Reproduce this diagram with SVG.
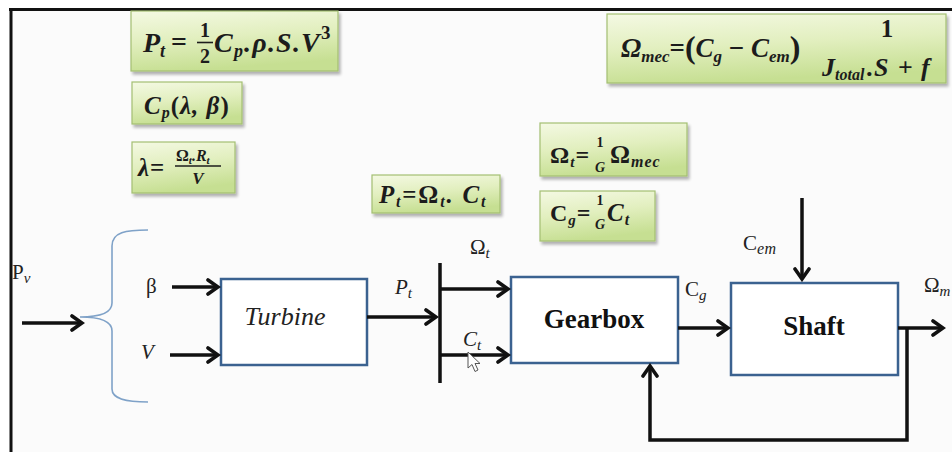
<svg xmlns="http://www.w3.org/2000/svg" width="952" height="452" viewBox="0 0 952 452">
<defs>
<linearGradient id="grn" x1="0" y1="0" x2="0.25" y2="1">
<stop offset="0" stop-color="#f4f9e3"/>
<stop offset="0.5" stop-color="#e2efbf"/>
<stop offset="1" stop-color="#c6df92"/>
</linearGradient>
<filter id="sh" x="-10%" y="-10%" width="130%" height="140%">
<feGaussianBlur in="SourceAlpha" stdDeviation="1.5"/>
<feOffset dx="2" dy="3" result="o"/>
<feComponentTransfer><feFuncA type="linear" slope="0.3"/></feComponentTransfer>
<feMerge><feMergeNode/><feMergeNode in="SourceGraphic"/></feMerge>
</filter>
<marker id="ah" markerUnits="userSpaceOnUse" viewBox="0 0 16 18" refX="13" refY="9" markerWidth="16" markerHeight="18" orient="auto">
<path d="M3,2 L13,9 L3,16" fill="none" stroke="#111" stroke-width="3.6" stroke-linecap="round"/>
</marker>
</defs>
<style>
.eq { fill:url(#grn); stroke:#a3bf72; stroke-width:1.2; filter:url(#sh); }
.blk { fill:#ffffff; stroke:#3b6290; stroke-width:2.5; }
.m { font-family:"Liberation Serif","DejaVu Serif",serif; font-style:italic; font-weight:bold; fill:#1c1c1c; }
.r { font-style:normal; }
.lb { font-family:"Liberation Serif","DejaVu Serif",serif; font-style:italic; fill:#222; font-size:21px; }
.up { font-style:normal; }
.w { stroke:#111; stroke-width:3.5; fill:none; }
.wa { stroke:#111; stroke-width:3.5; fill:none; marker-end:url(#ah); }
</style>
<rect x="0" y="0" width="952" height="452" fill="#ffffff"/>
<rect x="11" y="9" width="941" height="443" fill="#fbfbfb"/>
<line x1="9" y1="9.5" x2="952" y2="9.5" stroke="#111" stroke-width="3"/>
<line x1="11" y1="8" x2="11" y2="452" stroke="#111" stroke-width="3"/>

<g id="eq-pt">
<rect class="eq" x="131" y="11" width="207" height="60"/>
<text class="m" font-size="28"><tspan x="143" y="52">P</tspan><tspan font-size="18" dy="5">t</tspan><tspan class="r" x="171" y="51">=</tspan></text>
<text class="m r" font-size="20" text-anchor="middle"><tspan x="205" y="37">1</tspan><tspan x="205" y="63">2</tspan></text>
<line x1="197" y1="42.5" x2="213" y2="42.5" stroke="#1c1c1c" stroke-width="1.6"/>
<text class="m" font-size="28" letter-spacing="1.2"><tspan x="214" y="52">C</tspan><tspan font-size="18" dy="5">p</tspan><tspan dy="-5">.ρ.S.V</tspan><tspan class="r" font-size="19" dy="-13">3</tspan></text>
</g>

<g id="eq-cp">
<rect class="eq" x="132" y="82" width="110" height="42"/>
<text class="m" font-size="25" letter-spacing="1"><tspan x="144" y="114">C</tspan><tspan font-size="16" dy="4">p</tspan><tspan class="r" dy="-4">(</tspan><tspan>λ, β</tspan><tspan class="r">)</tspan></text>
</g>

<g id="eq-lambda">
<rect class="eq" x="132" y="142" width="103" height="51"/>
<text class="m" font-size="25" letter-spacing="1"><tspan x="138" y="176">λ</tspan><tspan class="r">=</tspan></text>
<text class="m" font-size="16"><tspan x="176" y="161" class="r">Ω</tspan><tspan font-size="11" dy="3">t</tspan><tspan dy="-3">.R</tspan><tspan font-size="11" dy="3">t</tspan></text>
<line x1="175" y1="166" x2="221" y2="166" stroke="#1c1c1c" stroke-width="1.3"/>
<text class="m" font-size="17" x="198" y="184" text-anchor="middle">V</text>
</g>

<g id="eq-power">
<rect class="eq" x="372" y="175" width="128" height="38"/>
<text class="m" font-size="25" letter-spacing="1.8"><tspan x="379" y="203">P</tspan><tspan font-size="16" dy="4">t</tspan><tspan class="r" dy="-4">=Ω</tspan><tspan font-size="16" dy="4">t</tspan><tspan dy="-4">. C</tspan><tspan font-size="16" dy="4">t</tspan></text>
</g>

<g id="eq-omega-t">
<rect class="eq" x="540" y="123" width="147" height="53"/>
<text class="m" font-size="24" letter-spacing="1"><tspan class="r" x="550" y="163">Ω</tspan><tspan font-size="15" dy="4">t</tspan><tspan class="r" dy="-4">=</tspan></text>
<text class="m" font-size="14" text-anchor="middle"><tspan class="r" x="600" y="147">1</tspan><tspan x="600" y="172">G</tspan></text>
<text class="m" font-size="25" letter-spacing="1"><tspan class="r" x="610" y="163">Ω</tspan><tspan font-size="16" dy="4">mec</tspan></text>
</g>

<g id="eq-cg">
<rect class="eq" x="540" y="191" width="115" height="50"/>
<text class="m" font-size="24" letter-spacing="1"><tspan class="r" x="550" y="221">C</tspan><tspan font-size="15" dy="4">g</tspan><tspan class="r" dy="-4">=</tspan></text>
<text class="m" font-size="14" text-anchor="middle"><tspan class="r" x="600" y="205">1</tspan><tspan x="600" y="229">G</tspan></text>
<text class="m" font-size="25" letter-spacing="1"><tspan x="607" y="221">C</tspan><tspan font-size="16" dy="4">t</tspan></text>
</g>

<g id="eq-omega-mec">
<rect class="eq" x="607" y="14" width="339" height="69"/>
<text class="m" font-size="27"><tspan x="621" y="57">Ω</tspan><tspan font-size="17" dy="5">mec</tspan><tspan class="r" dy="-5">=</tspan><tspan class="r" font-size="32" dy="1">(</tspan><tspan dy="-1">C</tspan><tspan font-size="17" dy="5">g</tspan><tspan class="r" dy="-5"> − </tspan><tspan>C</tspan><tspan font-size="17" dy="5">em</tspan><tspan class="r" font-size="32" dy="-4">)</tspan></text>
<text class="m r" font-size="25" x="887" y="37" text-anchor="middle">1</text>
<text class="m" font-size="26"><tspan x="822" y="76">J</tspan><tspan font-size="16" dy="4">total</tspan><tspan dy="-4" x="867">.</tspan><tspan x="874">S</tspan><tspan class="r" x="898">+</tspan><tspan x="921">f</tspan></text>
</g>

<g id="brace">
<path d="M148,230 C126,230 112,232 112,246 L112,303 C112,313 100,317 80,317 C100,317 112,321 112,331 L112,389 C112,399 126,402 148,402" fill="none" stroke="#7fa2c8" stroke-width="1.6"/>
</g>

<g id="turbine">
<rect class="blk" x="221" y="279" width="146" height="86"/>
<text x="285" y="325" text-anchor="middle" font-family="Liberation Serif, DejaVu Serif, serif" font-style="italic" font-size="26" fill="#222">Turbine</text>
</g>

<g id="gearbox">
<rect class="blk" x="511" y="277" width="167" height="86"/>
<text x="594" y="328" text-anchor="middle" font-family="Liberation Serif, DejaVu Serif, serif" font-weight="bold" font-size="27" fill="#111">Gearbox</text>
</g>

<g id="shaft">
<rect class="blk" x="731" y="283" width="167" height="92"/>
<text x="814" y="335" text-anchor="middle" font-family="Liberation Serif, DejaVu Serif, serif" font-weight="bold" font-size="27" fill="#111">Shaft</text>
</g>

<g id="connectors">
<line class="wa" x1="22" y1="323" x2="82" y2="323"/>
<line class="wa" x1="172" y1="287" x2="218" y2="287"/>
<line class="wa" x1="170" y1="355" x2="218" y2="355"/>
<line class="wa" x1="367" y1="317" x2="436" y2="317"/>
<line class="w" x1="440" y1="263" x2="440" y2="383"/>
<line class="wa" x1="440" y1="289" x2="508" y2="289"/>
<line class="wa" x1="440" y1="355" x2="508" y2="355"/>
<line class="wa" x1="678" y1="328" x2="728" y2="328"/>
<line class="wa" x1="802" y1="198" x2="802" y2="279"/>
<line class="wa" x1="898" y1="328" x2="943" y2="328"/>
<polyline class="wa" points="907,328 907,440 650,440 650,366"/>
</g>

<g id="labels">
<text class="lb"><tspan class="up" x="12" y="279">P</tspan><tspan font-size="15" dy="4">v</tspan></text>
<text class="lb up" font-size="22" x="146" y="293">β</text>
<text class="lb" x="141" y="359">V</text>
<text class="lb"><tspan x="395" y="294">P</tspan><tspan font-size="15" dy="4">t</tspan></text>
<text class="lb"><tspan class="up" x="470" y="254">Ω</tspan><tspan font-size="15" dy="4">t</tspan></text>
<text class="lb"><tspan x="463" y="346">C</tspan><tspan font-size="15" dy="4">t</tspan></text>
<text class="lb"><tspan class="up" x="685" y="296">C</tspan><tspan font-size="15" dy="4">g</tspan></text>
<text class="lb"><tspan class="up" x="743" y="250">C</tspan><tspan font-size="16" dy="4" letter-spacing="0.5">em</tspan></text>
<text class="lb"><tspan class="up" x="924" y="292">Ω</tspan><tspan font-size="15" dy="4">m</tspan></text>
</g>

<g id="cursor">
<path d="M468,352 L468,368 L472,364.5 L475,371.5 L478,370 L475,363.5 L480,363.5 Z" fill="#ffffff" stroke="#555" stroke-width="1"/>
</g>
</svg>
